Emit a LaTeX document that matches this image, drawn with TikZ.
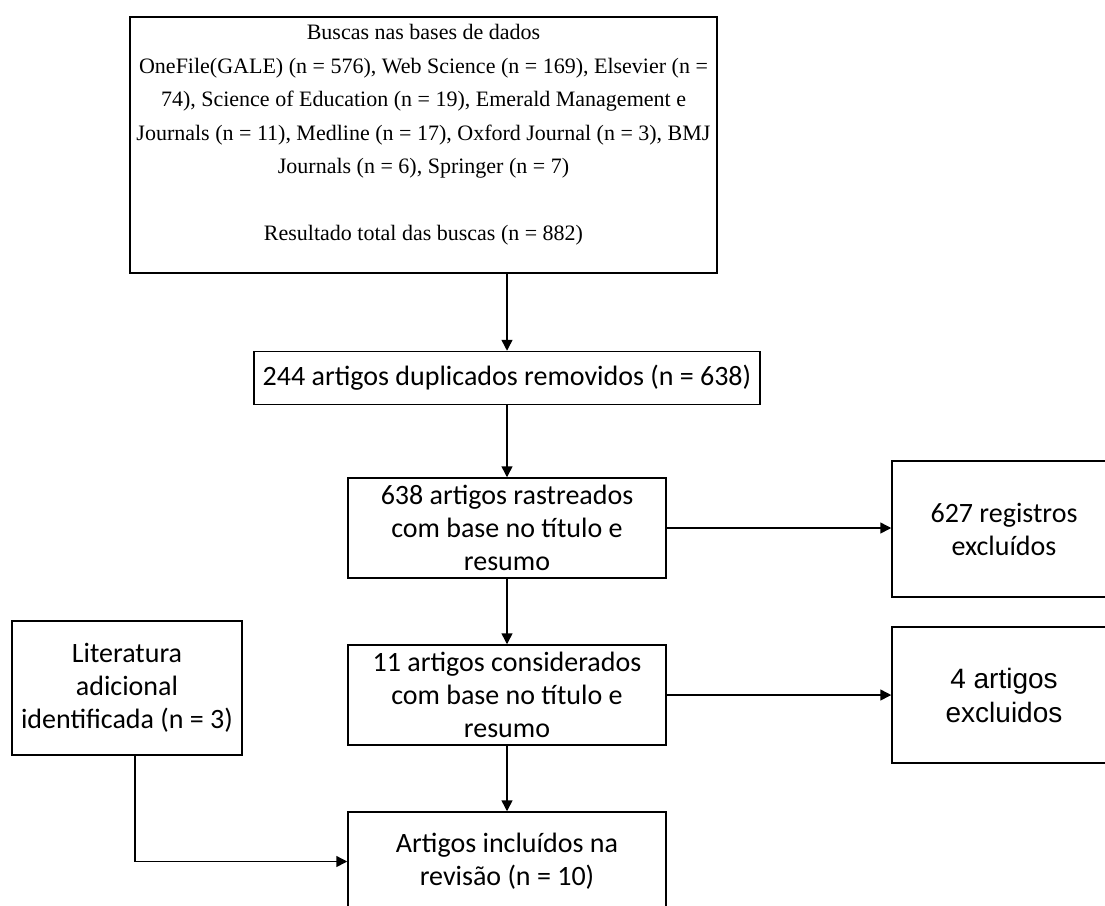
\documentclass[tikz,border=0pt]{standalone}
\usepackage{fontspec}
\setmainfont{Liberation Serif}
\newfontfamily\calib{Carlito}
\newfontfamily\arialf{Liberation Sans}
\usetikzlibrary{arrows.meta}
\begin{document}
\begin{tikzpicture}[x=1pt,y=-1pt,
  box/.style={draw=black, line width=1.5pt, rectangle, inner sep=0pt, align=center},
  cal/.style={font=\calib\fontsize{28}{33}\selectfont},
  arr/.style={line width=1.5pt, -{Triangle[length=11pt,width=11pt]}}]
\useasboundingbox (0,0) rectangle (1105,905);
\fill[white] (0,0) rectangle (1105,905);
\clip (0,0) rectangle (1105,905);

\node[box, minimum width=587pt, minimum height=256pt, font=\fontsize{22}{33.5}\selectfont] (top) at (423.5,145)
 {Buscas nas bases de dados\\
  OneFile(GALE) (n = 576), Web Science (n = 169), Elsevier (n =\\
  74), Science of Education (n = 19), Emerald Management e\\
  Journals (n = 11), Medline (n = 17), Oxford Journal (n = 3), BMJ\\
  Journals (n = 6), Springer (n = 7)\\[33.5pt]
  Resultado total das buscas (n = 882)\rule[-25pt]{0pt}{1pt}};

\node[box, cal, minimum width=506pt, minimum height=53pt] (dup) at (507,378)
 {244 artigos duplicados removidos (n = 638)};

\node[box, cal, minimum width=318pt, minimum height=100pt] (rast) at (507,528)
 {638 artigos rastreados\\ com base no título e\\ resumo};

\node[box, cal, minimum width=224pt, minimum height=136pt] (excl1) at (1004,529)
 {627 registros\\ excluídos};

\node[box, cal, minimum width=318pt, minimum height=100pt] (cons) at (507,695)
 {11 artigos considerados\\ com base no título e\\ resumo};

\node[box, font=\arialf\fontsize{28}{34}\selectfont, minimum width=224pt, minimum height=136pt] (excl2) at (1004,695)
 {4 artigos\\ excluidos};

\node[box, cal, minimum width=230pt, minimum height=134pt] (lit) at (127,688)
 {Literatura\\ adicional\\ identificada (n = 3)};

\node[box, cal, minimum width=318pt, minimum height=99pt] (incl) at (507,861.5)
 {Artigos incluídos na\\ revisão (n = 10)};

\draw[arr] (top.south -| dup.north) -- (dup.north);
\draw[arr] (dup.south) -- (rast.north);
\draw[arr] (rast.south) -- (cons.north);
\draw[arr] (cons.south) -- (incl.north);
\draw[arr] (rast.east) -- (rast.east -| excl1.west);
\draw[arr] (cons.east) -- (excl2.west);
\draw[arr] ([xshift=8pt]lit.south) |- (incl.west);
\end{tikzpicture}
\end{document}
